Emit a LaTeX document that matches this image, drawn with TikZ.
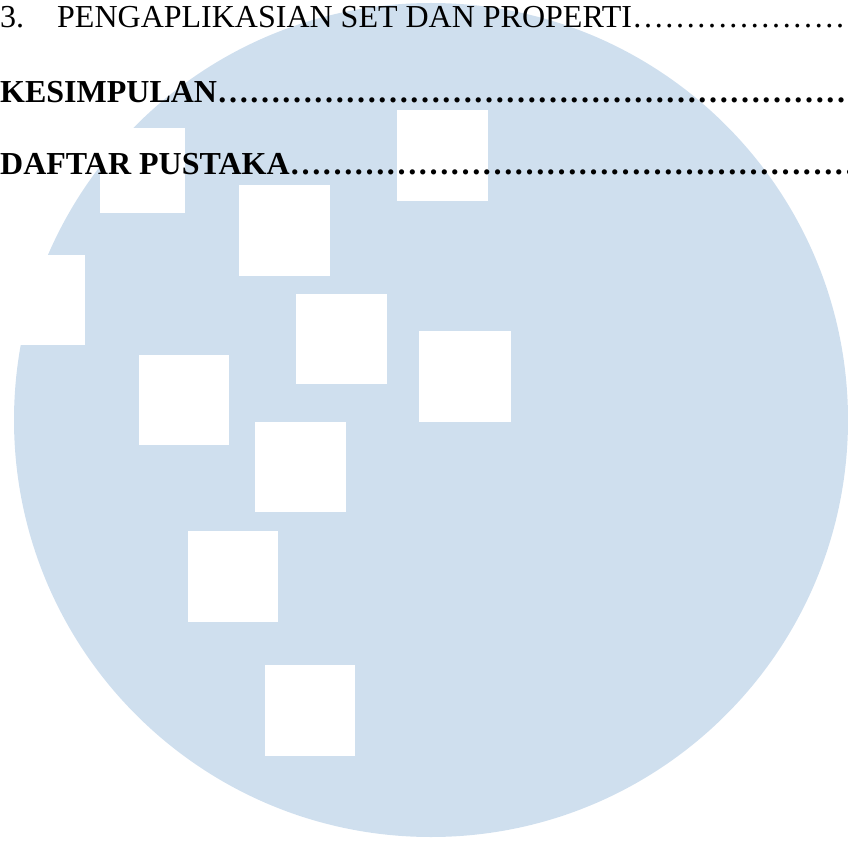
\documentclass[tikz,border=0pt]{standalone}
\usepackage{fontspec}
\setmainfont{Liberation Serif}
\definecolor{circblue}{RGB}{207,223,238}
\newcommand{\elldots}[1]{\foreach \k in {1,...,#1}{…}}
\begin{document}
\begin{tikzpicture}[x=1pt,y=-1pt,
  sq/.style={fill=white},
  txt/.style={anchor=base west, inner sep=0pt, font=\fontsize{32}{38}\selectfont},
  btxt/.style={anchor=base west, inner sep=0pt, font=\fontsize{32}{38}\selectfont\bfseries}]
\useasboundingbox (0,0) rectangle (848,842);
\clip (0,0) rectangle (848,842);
% background disc
\fill[circblue] (431,420) circle[radius=417pt];
% white squares
\fill[sq] (100,128) rectangle (185,213);
\fill[sq] (397,110) rectangle (488,201);
\fill[sq] (239,185) rectangle (330,276);
\fill[sq] (-5,255) rectangle (85,345);
\fill[sq] (296,294) rectangle (387,384);
\fill[sq] (419,331) rectangle (511,422);
\fill[sq] (139,355) rectangle (229,445);
\fill[sq] (255,422) rectangle (346,512);
\fill[sq] (188,531) rectangle (278,622);
\fill[sq] (265,665) rectangle (355,756);
% text
\node[txt] (num) at (0,28) {3.};
\node[txt] (t1) at (57,28) {PENGAPLIKASIAN SET DAN PROPERTI\elldots{7}};
\node[btxt] (t2) at (0,103) {KESIMPULAN\elldots{20}};
\node[btxt] (t3) at (0,175) {DAFTAR PUSTAKA\elldots{18}};
\end{tikzpicture}
\end{document}
